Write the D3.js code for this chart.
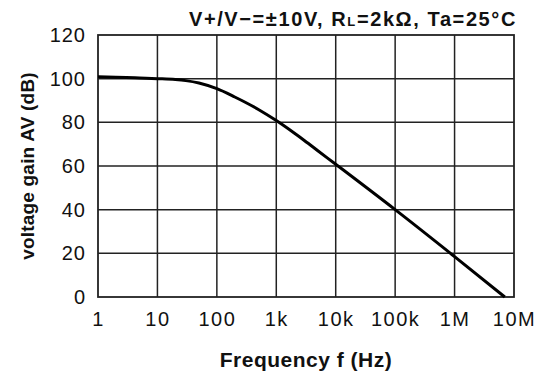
<!DOCTYPE html>
<html><head><meta charset="utf-8">
<script src="https://cdn.jsdelivr.net/npm/d3@7"></script>
<style>
body{margin:0;background:#fff;}
text{font-family:"Liberation Sans",Arial,Helvetica,sans-serif;fill:#111;}
</style></head>
<body><svg id="c" width="549" height="376"></svg>
<script>
const freqs = [1, 2, 3, 5, 10, 20, 30, 50, 100, 200, 300, 500, 1e3, 2e3, 3e3, 5e3, 1e4, 1e5, 1e6, 7e6];
const gains = [100.9, 100.7, 100.55, 100.3, 100, 99.6, 99.1, 98.0, 95.4, 91.6, 89.2, 85.9, 80.8, 75.1, 71.6, 67.0, 60.8, 40, 18.5, 0];
const xTicks = [1, 10, 100, 1e3, 1e4, 1e5, 1e6, 1e7];
const xTickLabels = ["1", "10", "100", "1k", "10k", "100k", "1M", "10M"];
const yTicks = [0, 20, 40, 60, 80, 100, 120];

const svg = d3.select("#c");
const L = 98, R = 514, T = 35, B = 297;
const x = d3.scaleLog().domain([1, 1e7]).range([L, R]);
const y = d3.scaleLinear().domain([0, 120]).range([B, T]);

// grid
svg.append("g").selectAll("line").data(xTicks.slice(1, -1)).join("line")
  .attr("x1", d => x(d)).attr("x2", d => x(d)).attr("y1", T).attr("y2", B)
  .attr("stroke", "#222").attr("stroke-width", 1.5);
svg.append("g").selectAll("line").data(yTicks.slice(1, -1)).join("line")
  .attr("y1", d => y(d)).attr("y2", d => y(d)).attr("x1", L).attr("x2", R)
  .attr("stroke", "#222").attr("stroke-width", 1.5);
svg.append("rect").attr("x", L).attr("y", T).attr("width", R - L).attr("height", B - T)
  .attr("fill", "none").attr("stroke", "#222").attr("stroke-width", 1.8);

// axes (labels only)
const xAxis = d3.axisBottom(x).tickValues(xTicks).tickFormat((d, i) => xTickLabels[i]).tickSize(0).tickPadding(15);
const gx = svg.append("g").attr("transform", `translate(0,${B})`).call(xAxis);
gx.select(".domain").remove();
gx.selectAll("text").attr("font-size", 20).attr("letter-spacing", 1.5)
  .attr("font-family", "Liberation Sans, Arial, sans-serif").attr("fill", "#111");

const yAxis = d3.axisLeft(y).tickValues(yTicks).tickSize(0).tickPadding(12);
const gy = svg.append("g").attr("transform", `translate(${L},0)`).call(yAxis);
gy.select(".domain").remove();
gy.selectAll("text").attr("font-size", 20).attr("letter-spacing", 1)
  .attr("font-family", "Liberation Sans, Arial, sans-serif").attr("fill", "#111");

// curve
const data = freqs.map((f, i) => ({f, g: gains[i]}));
svg.append("path").datum(data)
  .attr("d", d3.line().x(d => x(d.f)).y(d => y(d.g)).curve(d3.curveMonotoneX))
  .attr("fill", "none").attr("stroke", "#000").attr("stroke-width", 3);

// labels
svg.append("text").attr("x", (L + R) / 2).attr("y", 367).attr("text-anchor", "middle")
  .attr("font-size", 21).attr("letter-spacing", 0.5).attr("font-weight", "bold").text("Frequency f (Hz)");
svg.append("text").attr("transform", `translate(34,${(T + B) / 2}) rotate(-90)`).attr("text-anchor", "middle")
  .attr("font-size", 19).attr("letter-spacing", 0.2).attr("font-weight", "bold").text("voltage gain AV (dB)");

const title = svg.append("text").attr("x", 517).attr("y", 26).attr("text-anchor", "end")
  .attr("font-size", 20).attr("letter-spacing", 1.6).attr("font-weight", "bold");
title.append("tspan").text("V+/V\u2212=\u00b110V, R");
title.append("tspan").attr("font-size", 13).text("L");
title.append("tspan").text("=2k\u03a9, Ta=25\u00b0C");
</script></body></html>
